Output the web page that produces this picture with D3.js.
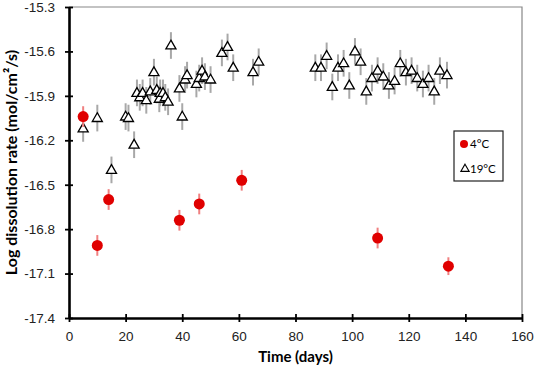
<!DOCTYPE html>
<html>
<head>
<meta charset="utf-8">
<script src="https://cdn.jsdelivr.net/npm/d3@7"></script>
<style>
  body { margin: 0; background: #fff; }
  svg { font-family: Lato, "Open Sans", sans-serif; }
</style>
</head>
<body>
<div id="chart"></div>
<script>
// 4 C series (red dots)
var coldDays = [5, 10, 14, 39, 46, 61, 109, 134];
var coldRate = [-16.04, -16.91, -16.60, -16.74, -16.63, -16.47, -16.86, -17.05];
var coldErr  = [0.07, 0.07, 0.07, 0.07, 0.07, 0.07, 0.07, 0.06];

// 19 C series (open triangles)
var warmDays = [5, 10, 15, 20, 21, 23, 24, 25, 26, 27.3, 28.7, 30, 31, 31.9, 32.2, 33.2, 34, 35, 36,
  39, 40, 41, 41.7, 45, 46, 47, 48, 50, 54, 56, 58, 65, 67,
  87, 89, 91, 93, 95, 97, 99, 101, 103, 105, 107, 109, 111, 113, 115, 117, 119, 121, 123, 125, 127, 129, 131, 133.5];
var warmRate = [-16.12, -16.05, -16.40, -16.04, -16.05, -16.23, -15.88, -15.91, -15.88, -15.93, -15.87, -15.74, -15.86, -15.92, -15.88, -15.88, -15.91, -15.94, -15.56,
  -15.85, -16.04, -15.79, -15.76, -15.82, -15.78, -15.73, -15.77, -15.79, -15.61, -15.57, -15.71, -15.74, -15.67,
  -15.71, -15.71, -15.63, -15.84, -15.71, -15.68, -15.83, -15.60, -15.67, -15.87, -15.78, -15.73, -15.77, -15.83, -15.80, -15.68, -15.74, -15.73, -15.78, -15.82, -15.78, -15.87, -15.73, -15.76];
var warmErr = 0.09;

var xTicks = [0, 20, 40, 60, 80, 100, 120, 140, 160];
var yTicks = [-15.3, -15.6, -15.9, -16.2, -16.5, -16.8, -17.1, -17.4];
var legendLabels = ['4°C', '19°C'];

var W = 536, H = 375;
var margin = {top: 7, right: 14, bottom: 57, left: 69};

var svg = d3.select('#chart').append('svg')
    .attr('width', W)
    .attr('height', H);

var x = d3.scaleLinear().domain([0, 160]).range([margin.left, W - margin.right]);
var y = d3.scaleLinear().domain([-17.4, -15.3]).range([H - margin.bottom, margin.top]);

// frame: thin gray top / right
svg.append('path')
    .attr('d', 'M' + x(0) + ',' + y(-15.3) + 'H' + x(160) + 'V' + y(-17.4))
    .attr('fill', 'none')
    .attr('stroke', '#888')
    .attr('stroke-width', 1.2);

// axes
var xAxis = svg.append('g')
    .attr('transform', 'translate(0,' + y(-17.4) + ')')
    .call(d3.axisBottom(x).tickValues(xTicks).tickSizeInner(4).tickSizeOuter(0).tickPadding(9));
var yAxis = svg.append('g')
    .attr('transform', 'translate(' + x(0) + ',0)')
    .call(d3.axisLeft(y).tickValues(yTicks).tickFormat(function(d) { return d.toFixed(1); })
      .tickSizeInner(4).tickSizeOuter(0).tickPadding(10));

[xAxis, yAxis].forEach(function(a) {
  a.select('.domain').attr('stroke', '#000').attr('stroke-width', 2.6);
  a.selectAll('.tick line').attr('stroke', '#000').attr('stroke-width', 1.8);
  a.selectAll('.tick text').attr('font-size', 13.5).attr('fill', '#222');
});
// ticks cross the axis
xAxis.selectAll('.tick line').attr('y1', -4).attr('y2', 4);
yAxis.selectAll('.tick line').attr('x1', -4).attr('x2', 4);

// axis titles
svg.append('text')
    .attr('x', (x(0) + x(160)) / 2)
    .attr('y', 362)
    .attr('text-anchor', 'middle')
    .attr('font-size', 15)
    .attr('font-weight', 'bold')
    .text('Time (days)');

svg.append('text')
    .attr('transform', 'translate(11,' + ((y(-15.3) + y(-17.4)) / 2) + ') rotate(-90)')
    .attr('dy', '0.35em')
    .attr('text-anchor', 'middle')
    .attr('font-size', 16)
    .attr('font-weight', 'bold')
    .text('Log dissolution rate (mol/cm²/s)');

var tri = d3.symbol().type(d3.symbolTriangle).size(44);

// 19 C error bars + triangles
var warm = warmDays.map(function(d, i) { return {t: d, v: warmRate[i]}; });
svg.append('g').selectAll('line').data(warm).enter().append('line')
    .attr('x1', function(d) { return x(d.t); })
    .attr('x2', function(d) { return x(d.t); })
    .attr('y1', function(d) { return y(d.v + warmErr); })
    .attr('y2', function(d) { return y(d.v - warmErr); })
    .attr('stroke', '#a8a8a8')
    .attr('stroke-width', 2);
svg.append('g').selectAll('path').data(warm).enter().append('path')
    .attr('d', tri)
    .attr('transform', function(d) { return 'translate(' + x(d.t) + ',' + (y(d.v) + 0.5) + ')'; })
    .attr('fill', '#fff')
    .attr('stroke', '#000')
    .attr('stroke-width', 1.3);

// 4 C error bars + dots
var cold = coldDays.map(function(d, i) { return {t: d, v: coldRate[i], e: coldErr[i]}; });
svg.append('g').selectAll('line').data(cold).enter().append('line')
    .attr('x1', function(d) { return x(d.t); })
    .attr('x2', function(d) { return x(d.t); })
    .attr('y1', function(d) { return y(d.v + d.e); })
    .attr('y2', function(d) { return y(d.v - d.e); })
    .attr('stroke', '#f08080')
    .attr('stroke-width', 2);
svg.append('g').selectAll('circle').data(cold).enter().append('circle')
    .attr('cx', function(d) { return x(d.t); })
    .attr('cy', function(d) { return y(d.v); })
    .attr('r', 5.5)
    .attr('fill', '#e00000');

// legend
var lg = svg.append('g').attr('transform', 'translate(454,131)');
lg.append('rect')
    .attr('width', 49).attr('height', 50)
    .attr('fill', '#fff')
    .attr('stroke', '#222')
    .attr('stroke-width', 1.2);
lg.append('circle').attr('cx', 10).attr('cy', 13).attr('r', 4).attr('fill', '#e00000');
lg.append('path').attr('d', d3.symbol().type(d3.symbolTriangle).size(30))
    .attr('transform', 'translate(11,38)')
    .attr('fill', '#fff').attr('stroke', '#000').attr('stroke-width', 1.1);
lg.selectAll('text.lab').data(legendLabels).enter().append('text')
    .attr('class', 'lab')
    .attr('x', 16)
    .attr('y', function(d, i) { return 17 + i * 25; })
    .attr('font-size', 11.5)
    .text(function(d) { return d; });
</script>
</body>
</html>
